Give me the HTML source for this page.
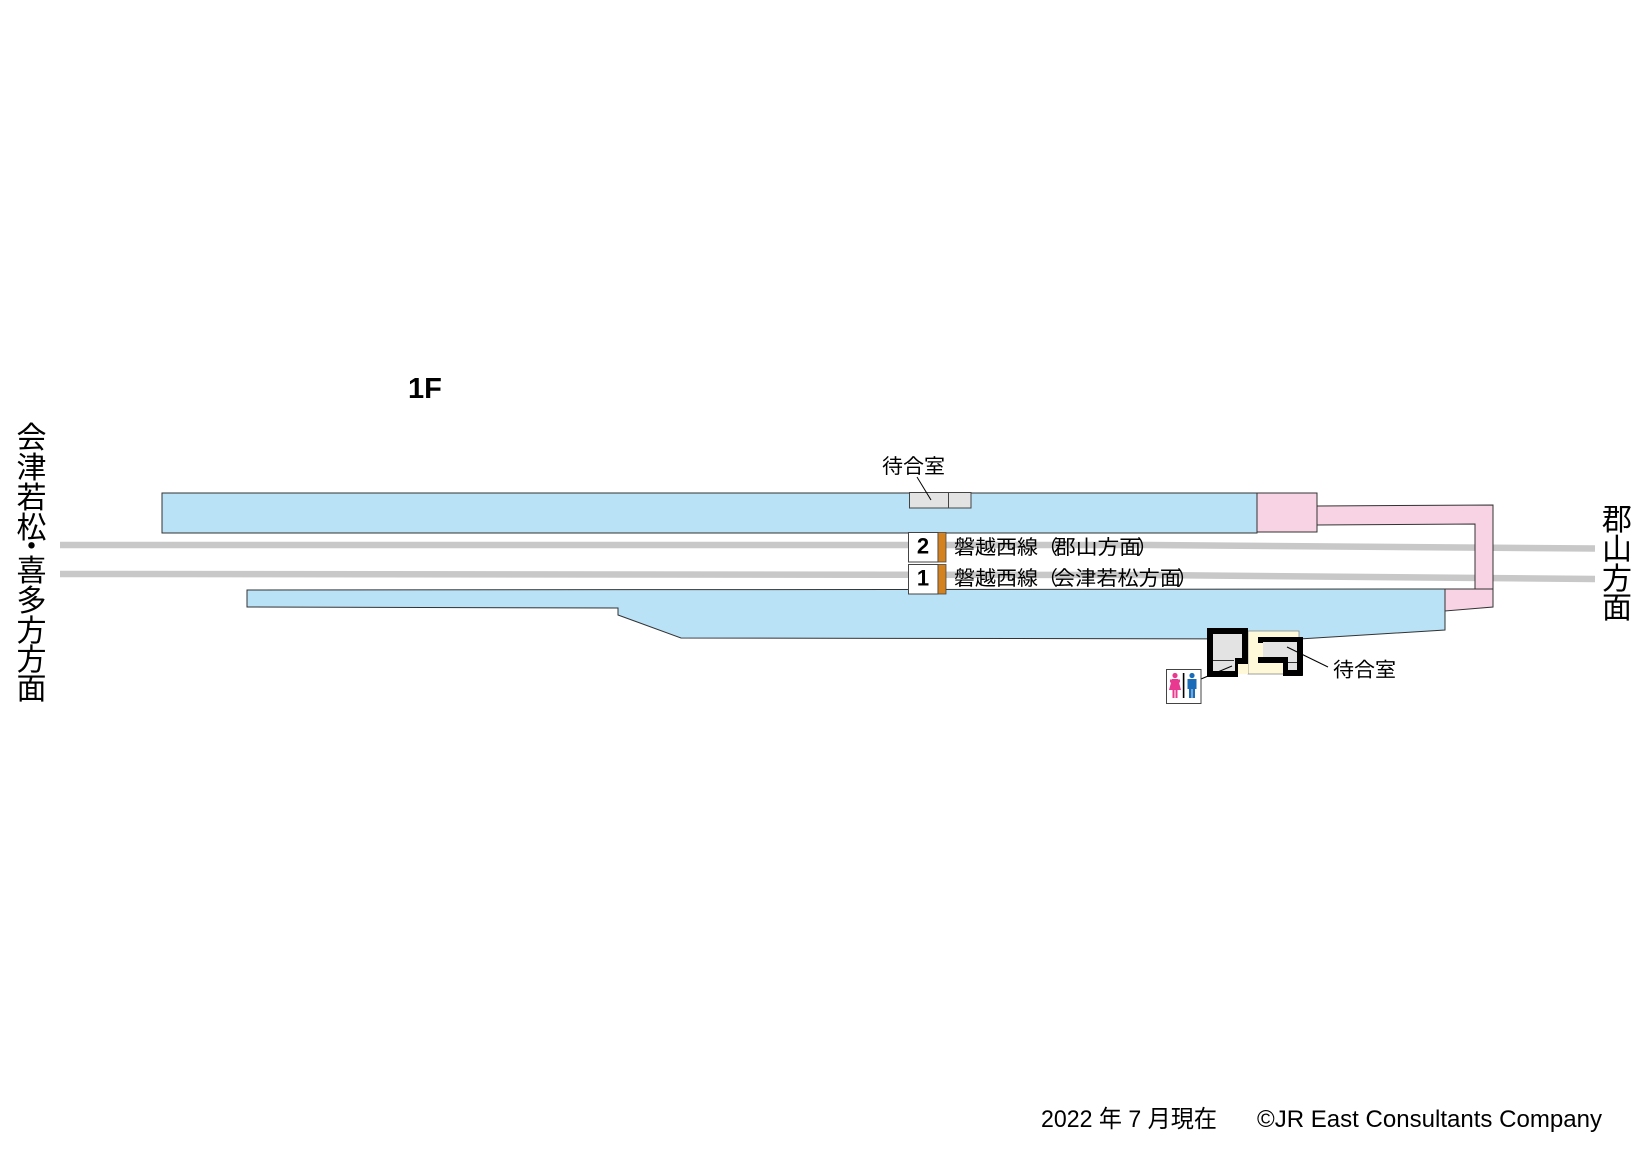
<!DOCTYPE html>
<html>
<head>
<meta charset="utf-8">
<style>
html,body{margin:0;padding:0;background:#fff;}
svg{display:block;}
text{font-family:"Liberation Sans","Noto Sans CJK JP",sans-serif;fill:#000;}
</style>
</head>
<body>
<svg width="1642" height="1162" viewBox="0 0 1642 1162" xmlns="http://www.w3.org/2000/svg">
  <rect x="0" y="0" width="1642" height="1162" fill="#fff"/>

  <!-- 1F -->
  <text x="408" y="398" font-size="29" font-weight="bold">1F</text>

  <!-- tracks -->
  <polyline points="60,545 1150,545 1595,548.5" fill="none" stroke="#c8c8c8" stroke-width="6.5"/>
  <polyline points="60,574 1150,575 1595,579" fill="none" stroke="#c8c8c8" stroke-width="6.5"/>

  <!-- top platform -->
  <polygon points="162,493 1257,493 1257,533 162,533" fill="#b9e2f7" stroke="#333" stroke-width="1"/>
  <!-- pink box top right -->
  <polygon points="1257,493 1317,493 1317,532 1257,532" fill="#f8d3e4" stroke="#333" stroke-width="1"/>
  <!-- pink corridor -->
  <polygon points="1317,506 1493,505 1493,589 1475,589 1475,524 1317,525" fill="#f8d3e4" stroke="#333" stroke-width="1"/>

  <!-- lower platform -->
  <polygon points="247,590 1445,589 1445,630 1299,639 681,638 618,615 618,608 247,607" fill="#b9e2f7" stroke="#333" stroke-width="1"/>
  <!-- lower pink box -->
  <polygon points="1445,589 1493,589 1493,607 1445,611" fill="#f8d3e4" stroke="#333" stroke-width="1"/>

  <!-- waiting room boxes top platform -->
  <rect x="909.5" y="492.5" width="39" height="15.5" fill="#e3e3e3" stroke="#444" stroke-width="1"/>
  <rect x="948.5" y="492.5" width="22.5" height="15.5" fill="#e3e3e3" stroke="#444" stroke-width="1"/>
  <line x1="917" y1="477" x2="931" y2="500" stroke="#000" stroke-width="1"/>
  <text x="882" y="473" font-size="20" textLength="63" lengthAdjust="spacingAndGlyphs">待合室</text>

  <!-- number boxes -->
  <rect x="908.5" y="532.5" width="29.5" height="29.5" fill="#fff" stroke="#444" stroke-width="1"/>
  <rect x="938" y="532.5" width="8" height="29.5" fill="#d4821f" stroke="#444" stroke-width="0.8"/>
  <rect x="908.5" y="564.5" width="29.5" height="29.5" fill="#fff" stroke="#444" stroke-width="1"/>
  <rect x="938" y="564.5" width="8" height="29.5" fill="#d4821f" stroke="#444" stroke-width="0.8"/>
  <text x="923" y="553.5" font-size="22" font-weight="bold" text-anchor="middle">2</text>
  <text x="923" y="585.5" font-size="22" font-weight="bold" text-anchor="middle">1</text>

  <!-- line labels -->
  <text x="954" y="554" font-size="20" textLength="84" lengthAdjust="spacingAndGlyphs">磐越西線</text>
  <text x="1038" y="554" font-size="20">（</text>
  <text x="1054" y="554" font-size="20" textLength="87" lengthAdjust="spacingAndGlyphs">郡山方面</text>
  <text x="1137" y="554" font-size="20">）</text>

  <text x="954" y="585" font-size="20" textLength="84" lengthAdjust="spacingAndGlyphs">磐越西線</text>
  <text x="1038" y="585" font-size="20">（</text>
  <text x="1054" y="585" font-size="20" textLength="127" lengthAdjust="spacingAndGlyphs">会津若松方面</text>
  <text x="1177" y="585" font-size="20">）</text>

  <!-- station building -->
  <rect x="1248" y="631" width="51" height="43" fill="#fff9d9" stroke="#888" stroke-width="0.8"/>
  <rect x="1236" y="664" width="12" height="10" fill="#fff9d9"/>
  <!-- left block (toilet) -->
  <polygon points="1213,634 1242,634 1242,658 1235,658 1235,671 1213,671" fill="#e3e3e3"/>
  <line x1="1213" y1="660.5" x2="1234" y2="660.5" stroke="#333" stroke-width="1"/>
  <rect x="1207" y="628" width="41" height="6" fill="#000"/>
  <rect x="1207" y="628" width="6" height="49" fill="#000"/>
  <rect x="1207" y="671" width="31" height="6" fill="#000"/>
  <rect x="1242" y="628" width="6" height="35" fill="#000"/>
  <rect x="1235" y="658" width="13" height="6" fill="#000"/>
  <rect x="1235" y="658" width="3" height="19" fill="#000"/>
  <!-- right block (waiting room) -->
  <rect x="1263" y="642" width="34" height="15" fill="#e3e3e3"/>
  <rect x="1288" y="642" width="9" height="28" fill="#e3e3e3"/>
  <line x1="1288" y1="662.5" x2="1297" y2="662.5" stroke="#333" stroke-width="1"/>
  <rect x="1258" y="637" width="45" height="5" fill="#000"/>
  <rect x="1258" y="637" width="5" height="6" fill="#000"/>
  <rect x="1258" y="657" width="30" height="6" fill="#000"/>
  <rect x="1283" y="657" width="5" height="19" fill="#000"/>
  <rect x="1283" y="670" width="20" height="6" fill="#000" rx="1"/>
  <rect x="1297" y="637" width="6" height="39" fill="#000" rx="1"/>

  <!-- leaders -->
  <line x1="1201" y1="679" x2="1232" y2="666" stroke="#000" stroke-width="1"/>
  <line x1="1287" y1="647" x2="1328" y2="667" stroke="#000" stroke-width="1"/>
  <text x="1333" y="676.5" font-size="20" textLength="63" lengthAdjust="spacingAndGlyphs">待合室</text>

  <!-- toilet icon -->
  <rect x="1166.5" y="669.5" width="34.5" height="34" fill="#fff" stroke="#444" stroke-width="1"/>
  <circle cx="1175" cy="675.5" r="2.6" fill="#e8388f"/>
  <polygon points="1172,679 1178,679 1181,690 1169,690" fill="#e8388f"/>
  <rect x="1170" y="679.5" width="10" height="3" fill="#e8388f"/>
  <rect x="1172.5" y="689" width="2" height="9" fill="#e8388f"/>
  <rect x="1175.5" y="689" width="2" height="9" fill="#e8388f"/>
  <rect x="1182.8" y="673" width="1.6" height="25" fill="#000"/>
  <circle cx="1192" cy="675.5" r="2.6" fill="#1a6bb8"/>
  <rect x="1187.5" y="679" width="9" height="10" fill="#1a6bb8"/>
  <rect x="1189" y="688" width="2.6" height="10" fill="#1a6bb8"/>
  <rect x="1192.4" y="688" width="2.6" height="10" fill="#1a6bb8"/>

  <!-- left vertical direction text -->
  <g font-size="30" text-anchor="middle">
    <text x="31.5" y="448">会</text>
    <text x="31.5" y="478">津</text>
    <text x="31.5" y="508">若</text>
    <text x="31.5" y="538">松</text>
    <text x="31.5" y="557">・</text>
    <text x="31.5" y="581">喜</text>
    <text x="31.5" y="611">多</text>
    <text x="31.5" y="641">方</text>
    <text x="31.5" y="670">方</text>
    <text x="31.5" y="699">面</text>
  </g>

  <!-- right vertical direction text -->
  <g font-size="30" text-anchor="middle">
    <text x="1617" y="530">郡</text>
    <text x="1617" y="559.5">山</text>
    <text x="1617" y="589">方</text>
    <text x="1617" y="618">面</text>
  </g>

  <!-- footer -->
  <text x="1041" y="1127" font-size="24" textLength="176" lengthAdjust="spacingAndGlyphs">2022 年 7 月現在</text>
  <text x="1257" y="1127" font-size="24" textLength="345" lengthAdjust="spacingAndGlyphs">©JR East Consultants Company</text>
</svg>
</body>
</html>
